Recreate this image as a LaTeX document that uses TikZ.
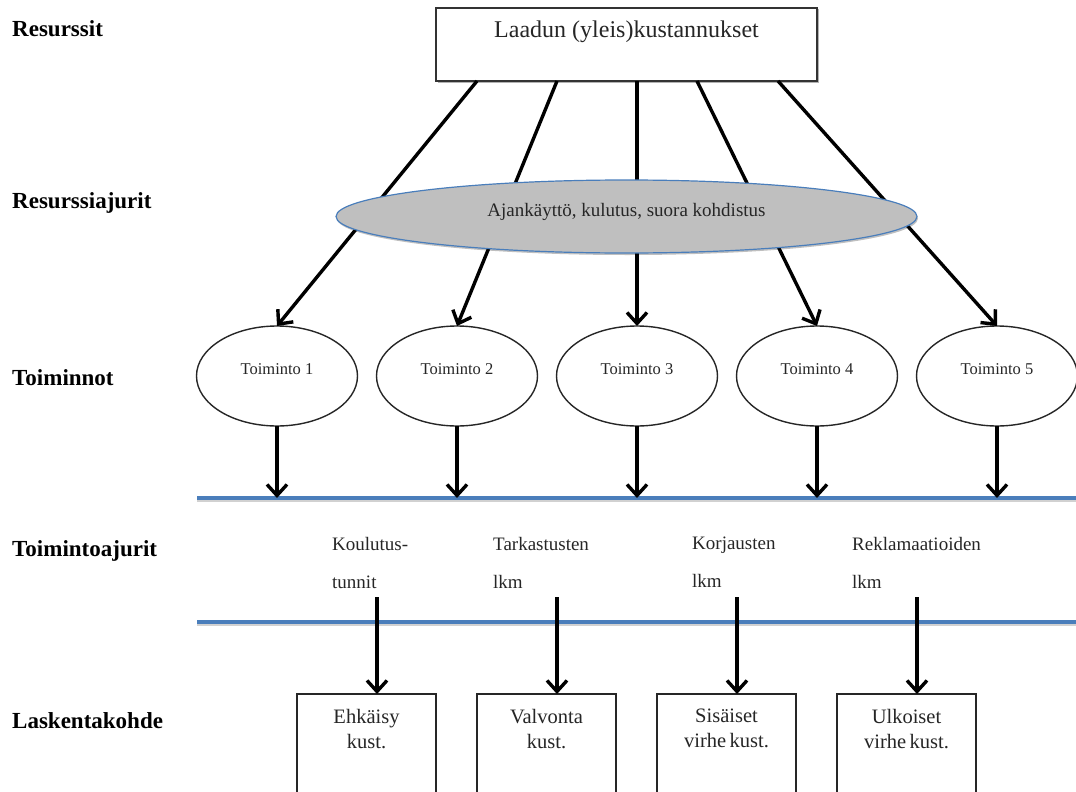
\documentclass[tikz,border=0pt]{standalone}
\usepackage{fontspec}
\setmainfont{Liberation Serif}
\usetikzlibrary{arrows.meta,shapes.geometric,shadows,calc}
\definecolor{ruleblue}{HTML}{4A7EBB}
\definecolor{drivergray}{HTML}{BFBFBF}
\definecolor{ink}{HTML}{262626}
\begin{document}
\begin{tikzpicture}[x=1pt,y=-1pt,
  arr/.style={line width=3.4pt, line cap=butt, -{Straight Barb[length=11pt,width=20pt]}},
  level/.style={anchor=base west, inner sep=0pt, text=black,
    font=\fontsize{23}{27}\selectfont\bfseries},
  topbox/.style={rectangle, draw=black!80, line width=1.4pt, fill=white,
    minimum width=381pt, minimum height=73pt, inner sep=0pt, outer sep=0pt,
    text=ink, font=\fontsize{24}{28}\selectfont, text height=17pt, text depth=31pt,
    drop shadow={shadow xshift=1.5pt, shadow yshift=-1.5pt, opacity=0.3, fill=black}},
  driver/.style={ellipse, draw=ruleblue, line width=1.2pt, fill=drivergray,
    minimum width=581pt, minimum height=73pt, inner sep=0pt, outer sep=0pt,
    text=ink, font=\fontsize{19}{23}\selectfont, text height=13pt, text depth=13pt,
    drop shadow={shadow xshift=1pt, shadow yshift=-2pt, opacity=0.25, fill=black}},
  activity/.style={ellipse, draw=black!85, line width=1.4pt, fill=white,
    minimum width=161pt, minimum height=100pt, inner sep=0pt, outer sep=0pt,
    text=ink, font=\fontsize{16.5}{20}\selectfont, text height=12pt, text depth=16pt},
  ruleline/.style={line width=3.6pt, ruleblue},
  ruleshadow/.style={line width=3pt, black, opacity=0.18},
  drvtext/.style={anchor=north west, align=left, inner sep=0pt, text=ink,
    font=\fontsize{19}{38}\selectfont},
  costobj/.style={rectangle, draw=black!85, line width=1.4pt, fill=white,
    minimum width=139pt, minimum height=130pt, inner sep=0pt, outer sep=0pt, anchor=north},
  costtext/.style={anchor=north, align=center, inner sep=0pt, text=ink,
    font=\fontsize{20.5}{25}\selectfont}
]
\useasboundingbox (0,0) rectangle (1076,792);
\clip (0,0) rectangle (1076,792);

% level labels
\node[level] (lv1) at (12,37)  {Resurssit};
\node[level] (lv2) at (12,208) {Resurssiajurit};
\node[level] (lv3) at (12,385) {Toiminnot};
\node[level] (lv4) at (12,556) {Toimintoajurit};
\node[level] (lv5) at (12,728) {Laskentakohde};

% resources
\node[topbox] (top) at (626.5,44.5) {Laadun (yleis)kustannukset};

% activities
\node[activity] (t1) at (277,376) {Toiminto 1};
\node[activity] (t2) at (457,376) {Toiminto 2};
\node[activity] (t3) at (637,376) {Toiminto 3};
\node[activity] (t4) at (817,376) {Toiminto 4};
\node[activity] (t5) at (997,376) {Toiminto 5};

% resource driver arrows
\path (top.south) ++(-149.5,0) coordinate (s1);
\path (top.south) ++(-69.5,0)  coordinate (s2);
\path (top.south) ++(10.5,0)   coordinate (s3);
\path (top.south) ++(70.5,0)   coordinate (s4);
\path (top.south) ++(151.5,0)  coordinate (s5);
\foreach \i in {1,...,5} \draw[arr] (s\i) -- (t\i.north);

% resource drivers
\node[driver] (drv) at (626.5,216.5) {Ajankäyttö, kulutus, suora kohdistus};

% separator rules
\coordinate (r1w) at (197,498);
\coordinate (r1e) at (1080,498);
\coordinate (r2w) at (197,622);
\coordinate (r2e) at (1080,622);
\draw[ruleshadow] ([yshift=-2.5pt]r1w) -- ([yshift=-2.5pt]r1e);
\draw[ruleline] (r1w) -- (r1e);
\draw[ruleshadow] ([yshift=-2.5pt]r2w) -- ([yshift=-2.5pt]r2e);
\draw[ruleline] (r2w) -- (r2e);

% activities onto the first rule
\foreach \i in {1,...,5} \draw[arr] (t\i.south) -- (t\i.south |- r1w);

% activity drivers
\node[drvtext] (k1) at (332,537) {Koulutus-\\tunnit};
\node[drvtext] (k2) at (493,537) {Tarkastusten\\lkm};
\node[drvtext] (k3) at (692,537) {Korjausten\\lkm};
\node[drvtext] (k4) at (852,537) {Reklamaatioiden\\lkm};

% cost objects
\node[costobj] (b1) at (366.5,694) {};
\node[costobj] (b2) at (546.5,694) {};
\node[costobj] (b3) at (726.5,694) {};
\node[costobj] (b4) at (906.5,694) {};
\node[costtext] (b1t) at ($(b1.north)+(0,15)$) {Ehkäisy\\kust.};
\node[costtext] (b2t) at ($(b2.north)+(0,15)$) {Valvonta\\kust.};
\node[costtext] (b3t) at ($(b3.north)+(0,15)$) {Sisäiset\\virhe\,kust.};
\node[costtext] (b4t) at ($(b4.north)+(0,15)$) {Ulkoiset\\virhe\,kust.};

% driver arrows into cost objects
\coordinate (d1) at (377,597);
\coordinate (d2) at (557,597);
\coordinate (d3) at (737,597);
\coordinate (d4) at (917,597);
\foreach \i in {1,...,4} \draw[arr] (d\i) -- (d\i |- b\i.north);
\end{tikzpicture}
\end{document}
